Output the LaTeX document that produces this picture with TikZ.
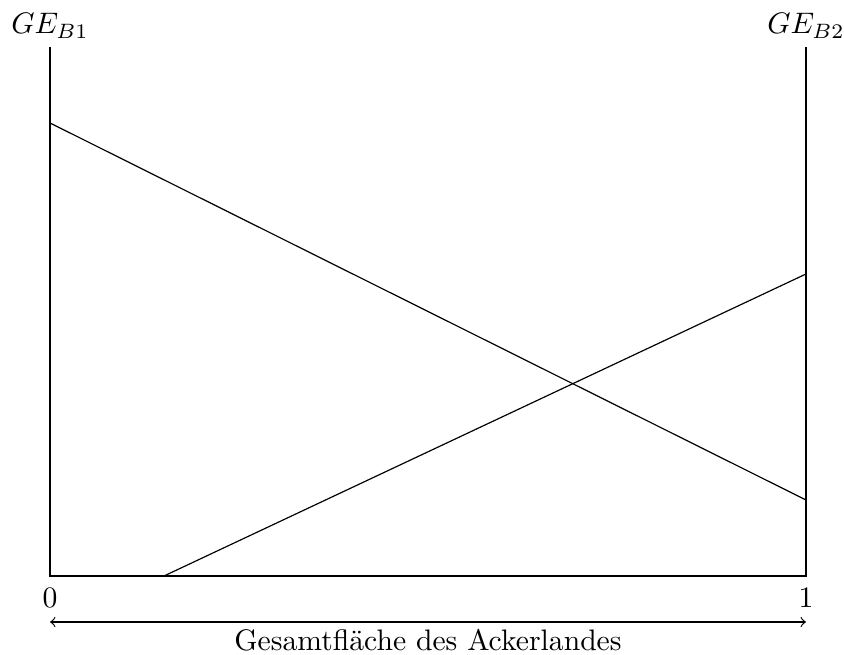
\documentclass[tikz,border=0pt]{standalone}
\begin{document}
\begin{tikzpicture}[x=0.3371pt,y=-0.3371pt,
  axisline/.style={line width=0.4pt},
  curve/.style={line width=0.4pt}]
\useasboundingbox (0,0) rectangle (844,655);
\coordinate (lt) at (50,47);
\coordinate (lb) at (50,576);
\coordinate (rt) at (806,47);
\coordinate (rb) at (806,576);
\coordinate (a1) at (50,123);
\coordinate (a2) at (806,500);
\coordinate (b1) at (164,576);
\coordinate (b2) at (806,274);
\coordinate (arrL) at (50,622);
\coordinate (arrR) at (806,622);
\draw[axisline] (lt) -- (lb) -- (rb) -- (rt);
\draw[curve] (a1) -- (a2);
\draw[curve] (b1) -- (b2);
\node (ge1) at (50,26) {$GE_{B1}$};
\node (ge2) at (806,26) {$GE_{B2}$};
\node (zero) at (50,598) {$0$};
\node (one) at (806,598) {$1$};
\draw[<->] (arrL) -- (arrR);
\node (lab) at (428,640) {Gesamtfläche des Ackerlandes};
\end{tikzpicture}
\end{document}
